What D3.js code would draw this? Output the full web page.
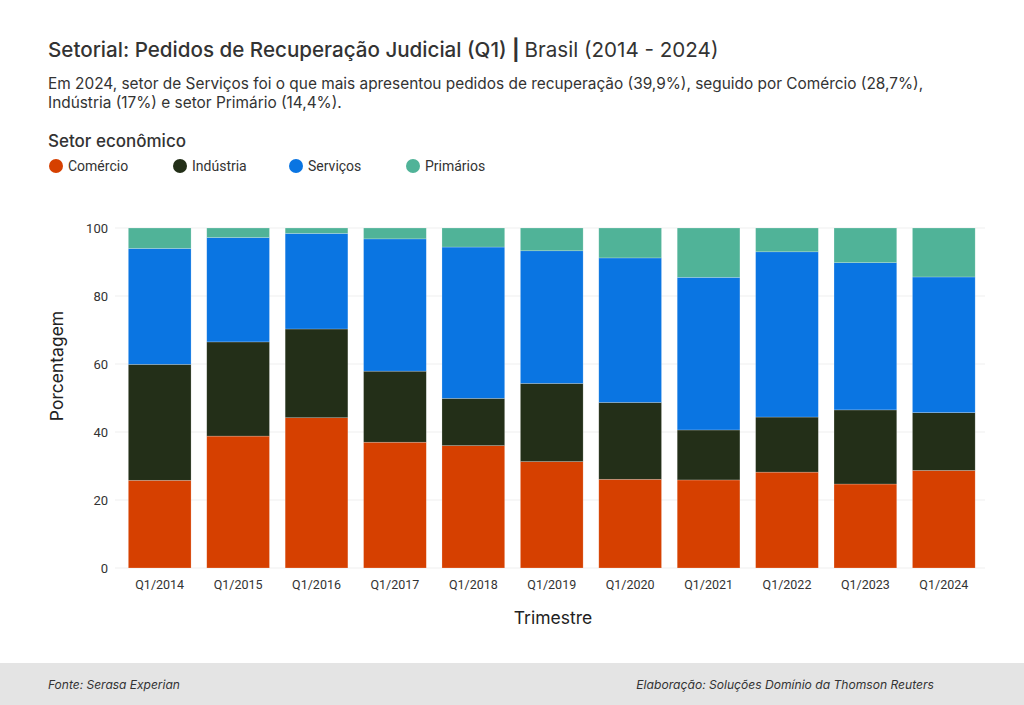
<!DOCTYPE html>
<html>
<head>
<meta charset="utf-8">
<script src="https://cdn.jsdelivr.net/npm/d3@7"></script>
<style>
  html, body { margin: 0; padding: 0; background: #fff; }
  svg { display: block; }
  text { font-family: Inter, Roboto, "Noto Sans", sans-serif; }
</style>
</head>
<body>
<svg id="chart" width="1024" height="705"></svg>
<script>
const categories = ["Q1/2014","Q1/2015","Q1/2016","Q1/2017","Q1/2018","Q1/2019","Q1/2020","Q1/2021","Q1/2022","Q1/2023","Q1/2024"];
const comercio  = [25.8, 38.8, 44.2, 37.0, 36.0, 31.3, 26.1, 25.9, 28.2, 24.7, 28.7];
const industria = [34.1, 27.7, 26.1, 20.9, 13.9, 23.0, 22.6, 14.7, 16.2, 21.8, 17.0];
const servicos  = [34.1, 30.7, 28.1, 38.9, 44.5, 39.0, 42.5, 44.9, 48.6, 43.3, 39.9];
const primarios = [6.0, 2.8, 1.6, 3.2, 5.6, 6.7, 8.8, 14.5, 7.0, 10.2, 14.4];
const seriesNames = ["Comércio","Indústria","Serviços","Primários"];
const seriesColors = ["#d64000","#232f18","#0a75e2","#50b398"];
const yTicks = [0, 20, 40, 60, 80, 100];

const svg = d3.select("#chart");

// Title
const title = svg.append("text").attr("x", 48).attr("y", 57).attr("font-size", 20.6).attr("fill", "#333");
title.append("tspan").attr("font-weight", 500).text("Setorial: Pedidos de Recuperação Judicial (Q1) ");
title.append("tspan").attr("font-weight", 700).text("| ");
title.append("tspan").attr("font-weight", 400).text("Brasil (2014 - 2024)");

svg.append("text").attr("x", 48).attr("y", 89).attr("font-size", 15.4).attr("fill", "#333")
  .text("Em 2024, setor de Serviços foi o que mais apresentou pedidos de recuperação (39,9%), seguido por Comércio (28,7%),");
svg.append("text").attr("x", 48).attr("y", 108).attr("font-size", 15.4).attr("fill", "#333")
  .text("Indústria (17%) e setor Primário (14,4%).");

// Legend
svg.append("text").attr("x", 48).attr("y", 147).attr("font-size", 17).attr("font-weight", 500).attr("fill", "#333")
  .text("Setor econômico");
const legendX = [48, 172, 288, 405];
seriesNames.forEach((n, i) => {
  const g = svg.append("g").attr("transform", `translate(${legendX[i]},166)`);
  g.append("circle").attr("cx", 8).attr("cy", 0).attr("r", 7).attr("fill", seriesColors[i]);
  g.append("text").attr("x", 20).attr("y", 5).attr("font-size", 14).attr("fill", "#333")
    .style("font-family", "Roboto, sans-serif").text(n);
});

// Scales
const x = d3.scaleBand().domain(categories).range([120.5, 983]).paddingInner(0.2).paddingOuter(0.1);
const y = d3.scaleLinear().domain([0, 100]).range([568, 228]);

// Grid
svg.append("g").selectAll("line").data(yTicks).join("line")
  .attr("x1", 115).attr("x2", 985)
  .attr("y1", d => y(d)).attr("y2", d => y(d))
  .attr("stroke", "#efefef").attr("stroke-width", 1);

// Y axis
const yAxis = svg.append("g").attr("transform", "translate(112,0)")
  .call(d3.axisLeft(y).tickValues(yTicks).tickSize(0).tickPadding(4));
yAxis.select(".domain").remove();
yAxis.selectAll("text").attr("font-size", 13).attr("fill", "#333").style("font-family", "Roboto, sans-serif");

// X axis
const xAxis = svg.append("g").attr("transform", "translate(0,574)")
  .call(d3.axisBottom(x).tickSize(0).tickPadding(6));
xAxis.select(".domain").remove();
xAxis.selectAll("text").attr("font-size", 12.5).attr("fill", "#333").style("font-family", "Roboto, sans-serif");

// Stack
const rows = categories.map((c, i) => ({
  cat: c, "Comércio": comercio[i], "Indústria": industria[i], "Serviços": servicos[i], "Primários": primarios[i]
}));
const stacked = d3.stack().keys(seriesNames)(rows);
svg.append("g").selectAll("g").data(stacked).join("g")
  .attr("fill", (d, i) => seriesColors[i])
  .selectAll("rect").data(d => d).join("rect")
  .attr("x", d => x(d.data.cat))
  .attr("width", x.bandwidth())
  .attr("y", d => y(d[1]))
  .attr("height", d => y(d[0]) - y(d[1]))
  .attr("stroke", "rgba(255,255,255,0.35)").attr("stroke-width", 0.6);

// Axis titles
svg.append("text").attr("transform", "translate(63,366) rotate(-90)").attr("text-anchor", "middle")
  .attr("font-size", 17.5).attr("fill", "#222").text("Porcentagem");
svg.append("text").attr("x", 553).attr("y", 624).attr("text-anchor", "middle")
  .attr("font-size", 17.5).attr("fill", "#222").text("Trimestre");

// Footer
svg.append("rect").attr("x", 0).attr("y", 663).attr("width", 1024).attr("height", 42).attr("fill", "#e4e4e4");
svg.append("text").attr("x", 48).attr("y", 689).attr("font-size", 12).attr("font-style", "italic").attr("fill", "#333")
  .text("Fonte: Serasa Experian");
svg.append("text").attr("x", 934).attr("y", 689).attr("text-anchor", "end").attr("font-size", 12.1).attr("font-style", "italic").attr("fill", "#333")
  .text("Elaboração: Soluções Domínio da Thomson Reuters");
</script>
</body>
</html>
